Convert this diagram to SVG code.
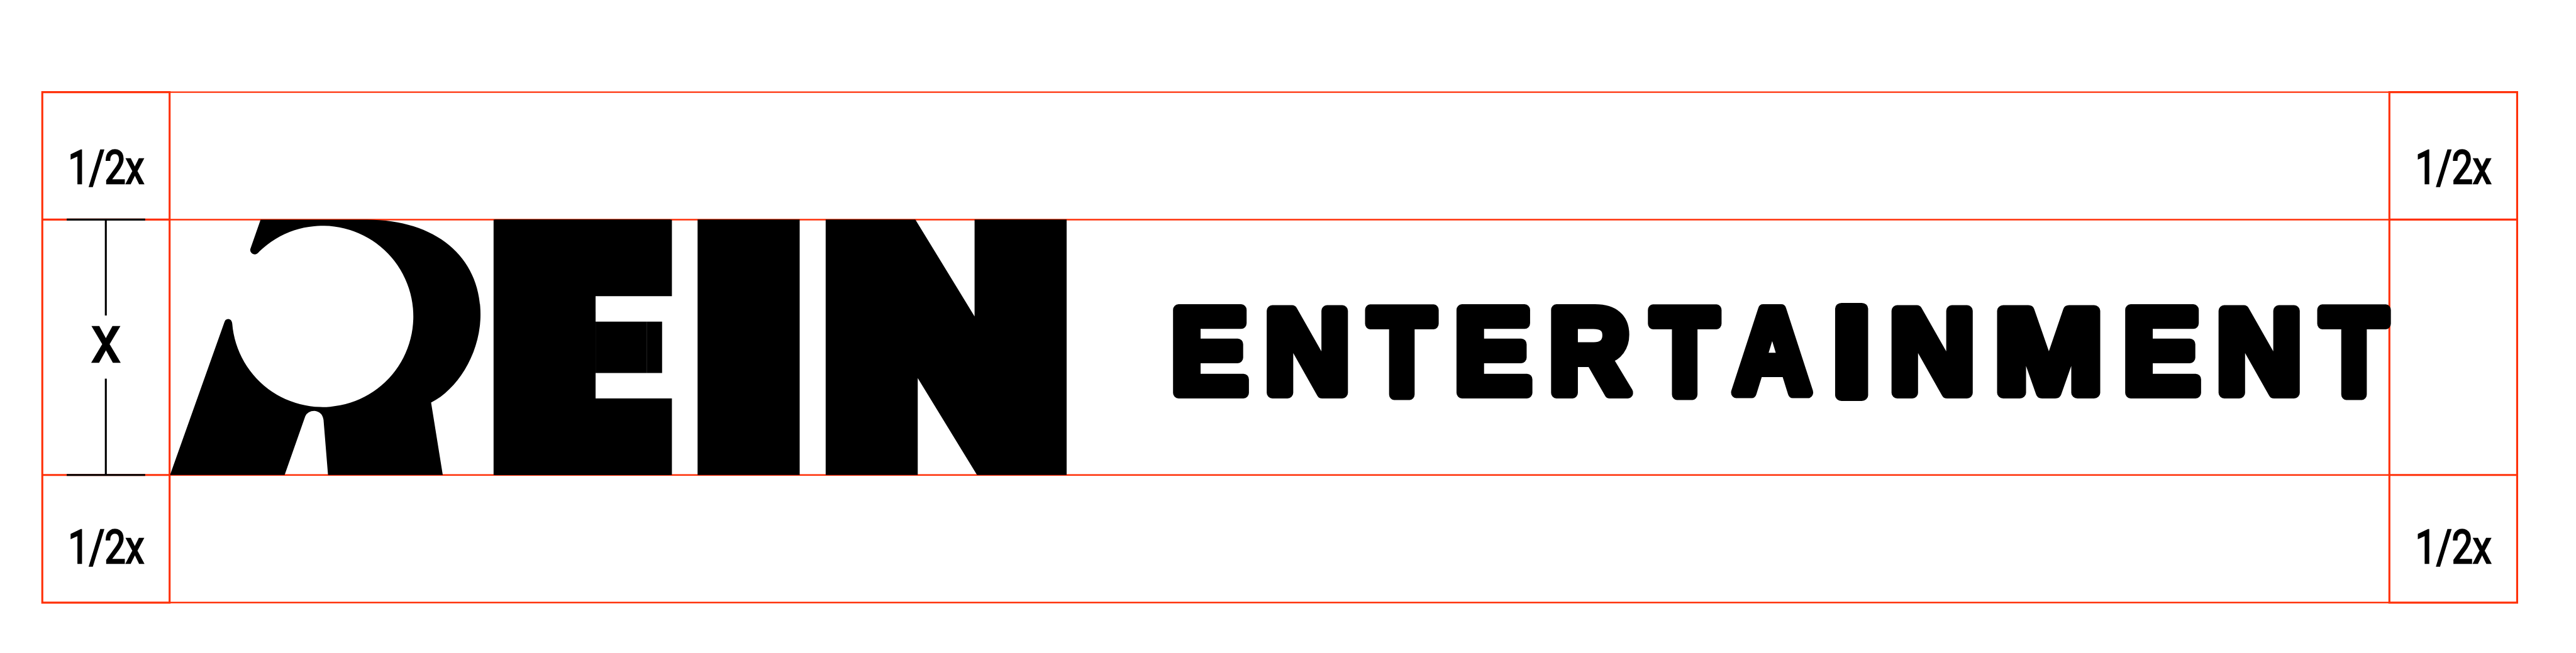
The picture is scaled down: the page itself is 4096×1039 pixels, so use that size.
<svg xmlns="http://www.w3.org/2000/svg" width="4096" height="1039" viewBox="0 0 4096 1039">
<style>
.grid{fill:none;stroke:#ff3008;stroke-width:4.5}
.thin{fill:none;stroke:#ff3008;stroke-width:3.5}
.tick{fill:none;stroke:#000;stroke-width:4.5}
.lab{font-family:Roboto,"Liberation Sans",Arial,sans-serif;fill:#000;stroke:#000;stroke-width:3.5;text-anchor:middle}
.big{font-family:Inter,"Liberation Sans",sans-serif;font-weight:900;fill:#000;stroke:#000;stroke-width:40;stroke-linejoin:miter;stroke-miterlimit:1.5}
.word{font-family:"Liberation Sans",Arial,sans-serif;font-weight:700;fill:#000;stroke:#000;stroke-width:26;stroke-linejoin:round}
</style>
<rect width="4096" height="1039" fill="#fff"/>
<g transform="scale(0.69330)">
<g id="guides">
<path class="thin" d="M389 211.5H5480M389 504H5480M389 1090H5480M389 1383H5480"/>
<path class="grid" d="M97 211.5H389V504H97ZM97 504V1090M389 504V1090M97 1090H389V1383H97Z"/>
<path class="grid" d="M5480 211.5H5773V504H5480ZM5480 504V1090M5773 504V1090M5480 1090H5773V1383H5480Z"/>
</g>
<g id="logo-mark">
<path d="M597.7 504L574 572Q573 580 582 583.5Q589 585 595 577A208 208 0 1 1 532.6 742.5Q531 732 523.5 732Q517 732 515 738.5L390 1090H652.8L700 955.5Q706 943 721 943Q739 945 742 963.5L752.3 1090H1015.5L988.7 924C1050 893 1102 810 1102 722C1102 590 1000 504 842 504Z"/>
<text class="big"><tspan x="1120" y="1070" font-size="751" textLength="428" lengthAdjust="spacingAndGlyphs">E</tspan><tspan x="1581" y="1070" font-size="751" textLength="272" lengthAdjust="spacingAndGlyphs">I</tspan><tspan x="1892" y="1058" font-size="718" style="stroke-width:64" textLength="556" lengthAdjust="spacingAndGlyphs">N</tspan></text>
<path d="M1132 504H1366V1090H1132ZM1366 504H1541V680H1366ZM1366 914H1541V1090H1366Z"/>
<path fill="#fff" d="M1366 680H1545V738H1483V856H1545V914H1366V856H1366V738H1366Z"/>
<path d="M1366 738H1483V856H1366Z"/>
</g>
<g id="wordmark">
<text class="word"><tspan x="2685.1" y="901.3" font-size="277" textLength="177.4" lengthAdjust="spacingAndGlyphs">E</tspan><tspan x="2899.8" y="901" font-size="273" textLength="197" lengthAdjust="spacingAndGlyphs">N</tspan><tspan x="3139.2" y="906" font-size="282" textLength="151.6" lengthAdjust="spacingAndGlyphs">T</tspan><tspan x="3335.1" y="901.3" font-size="277" textLength="177.4" lengthAdjust="spacingAndGlyphs">E</tspan><tspan x="3552.1" y="901" font-size="276" textLength="186.5" lengthAdjust="spacingAndGlyphs">R</tspan><tspan x="3788.2" y="906" font-size="282" textLength="151.6" lengthAdjust="spacingAndGlyphs">T</tspan><tspan x="3975.4" y="901" font-size="276" textLength="178" lengthAdjust="spacingAndGlyphs">A</tspan><tspan x="4201.8" y="907" font-size="290" textLength="90" lengthAdjust="spacingAndGlyphs">I</tspan><tspan x="4333" y="901" font-size="273" textLength="197" lengthAdjust="spacingAndGlyphs">N</tspan><tspan x="4574.7" y="902" font-size="273" textLength="248" lengthAdjust="spacingAndGlyphs">M</tspan><tspan x="4868.6" y="901.3" font-size="277" textLength="177.4" lengthAdjust="spacingAndGlyphs">E</tspan><tspan x="5083" y="901" font-size="273" textLength="197" lengthAdjust="spacingAndGlyphs">N</tspan><tspan x="5323" y="906" font-size="282" textLength="151.6" lengthAdjust="spacingAndGlyphs">T</tspan></text>
</g>
<g id="measure">
<path class="tick" d="M153 504H333M153 1090H333M242.7 504V724M242.7 869V1090"/>
<text class="lab" font-size="106" transform="translate(243.5 421.7) scale(.81 1)">1/2x</text>
<text class="lab" font-size="106" transform="translate(243.5 1293) scale(.81 1)">1/2x</text>
<text class="lab" font-size="106" transform="translate(5626.7 421.7) scale(.81 1)">1/2x</text>
<text class="lab" font-size="106" transform="translate(5626.7 1293) scale(.81 1)">1/2x</text>
<text class="lab" font-size="152" transform="translate(243 831) scale(.9 1)">x</text>
</g>
</g>
</svg>
